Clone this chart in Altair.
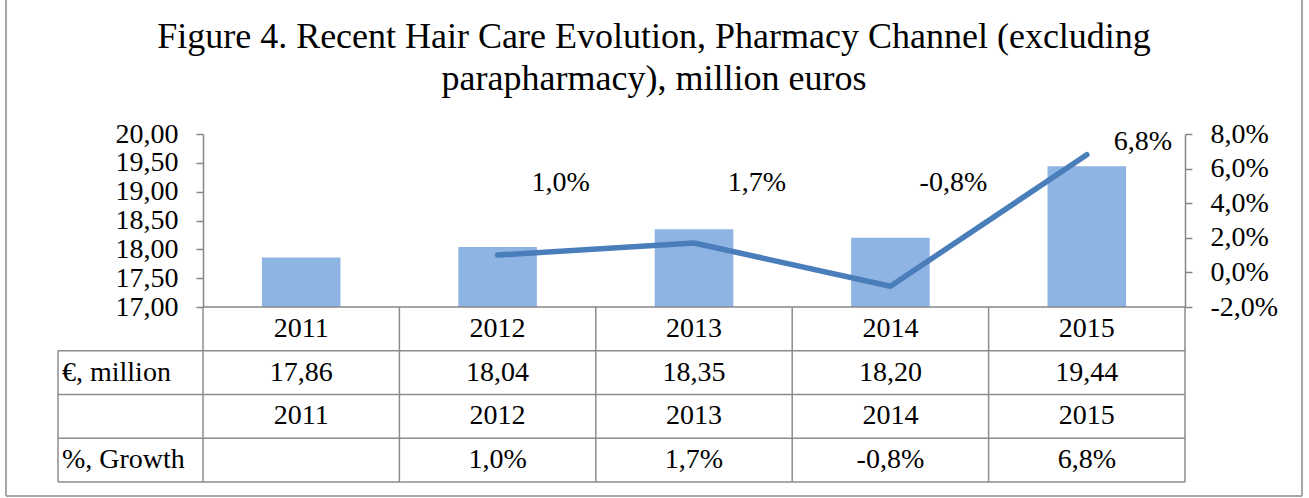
import altair as alt
import pandas as pd

# ---------------- data ----------------
years = ["2011", "2012", "2013", "2014", "2015"]
values = [17.86, 18.04, 18.35, 18.20, 19.44]
growth_years = ["2012", "2013", "2014", "2015"]
growth = [1.0, 1.7, -0.8, 6.8]
left_ticks = [17.0, 17.5, 18.0, 18.5, 19.0, 19.5, 20.0]
right_ticks = [-2, 0, 2, 4, 6, 8]
title_lines = ["Figure 4. Recent Hair Care Evolution, Pharmacy Channel (excluding",
               "parapharmacy), million euros"]
row_ids = ["r1", "r2", "r3", "r4"]
row_labels = ["", "€, million", "", "%, Growth"]

# ---------------- layout / style ----------------
W, H = 982, 173        # plot area
TH = 175               # table height under the plot
FONT = "Liberation Serif"
FS = 28
GRID = "#8C8C8C"
AX = "#868686"
BAR = "#8EB4E3"
LINE = "#4A7EBB"
FRAME = "#A6A6A6"

bars_df = pd.DataFrame({"year": years, "value": values})
growth_df = pd.DataFrame({"year": growth_years, "growth": growth})

gmap = dict(zip(growth_years, growth))
cells = []
for yr, v in zip(years, values):
    cells.append({"row": "r1", "year": yr, "text": yr})
    cells.append({"row": "r2", "year": yr, "text": f"{v:.2f}".replace(".", ",")})
    cells.append({"row": "r3", "year": yr, "text": yr})
    g = gmap.get(yr)
    cells.append({"row": "r4", "year": yr,
                  "text": "" if g is None else f"{g:.1f}".replace(".", ",") + "%"})
cells_df = pd.DataFrame(cells)
labels_df = pd.DataFrame({"row": row_ids, "label": row_labels})
one = alt.Data(values=[{}])

xscale = alt.Scale(domain=years, paddingInner=0, paddingOuter=0)
X = alt.X("year:N", scale=xscale, axis=None)
rowscale = alt.Scale(domain=row_ids, range=[H, H + TH], paddingInner=0, paddingOuter=0)

# ---------------- frame and title ----------------
frame_l = alt.Chart(one).mark_rule(color=FRAME, strokeWidth=2).encode(
    x=alt.value(-197), y=alt.value(-140), y2=alt.value(362))
frame_r = alt.Chart(one).mark_rule(color=FRAME, strokeWidth=2).encode(
    x=alt.value(1099), y=alt.value(-140), y2=alt.value(362))
frame_b = alt.Chart(one).mark_rule(color=FRAME, strokeWidth=2).encode(
    x=alt.value(-197), x2=alt.value(1099), y=alt.value(362))
title1 = alt.Chart(one).mark_text(text=title_lines[0], font=FONT, fontSize=36,
                                  align="center", baseline="alphabetic", color="black").encode(
    x=alt.value(451), y=alt.value(-86))
title2 = alt.Chart(one).mark_text(text=title_lines[1], font=FONT, fontSize=36,
                                  align="center", baseline="alphabetic", color="black").encode(
    x=alt.value(451), y=alt.value(-44))

# ---------------- bars (left axis) ----------------
bars = alt.Chart(bars_df).mark_bar(color=BAR, width=alt.RelativeBandSize(0.4)).encode(
    x=X,
    y=alt.Y("value:Q",
            scale=alt.Scale(domain=[17, 20], zero=False, nice=False),
            axis=alt.Axis(orient="left", values=left_ticks, title=None, grid=False,
                          labelExpr="replace(format(datum.value,'.2f'),'.',',')",
                          labelFont=FONT, labelFontSize=FS, labelColor="black",
                          labelPadding=18, tickSize=7, tickColor=AX, tickWidth=1.5,
                          domainColor=AX, domainWidth=1.5, labelOverlap=False)),
    y2=alt.datum(17),
)

# ---------------- growth line (right axis) ----------------
pct_expr = "replace(replace(format(datum.growth,'.1f'),'.',','),'\u2212','-') + '%'"
GY = alt.Y("growth:Q", scale=alt.Scale(domain=[-2, 8], nice=False),
           axis=alt.Axis(orient="right", values=right_ticks, title=None, grid=False,
                         labelExpr="replace(replace(format(datum.value,'.1f'),'.',','),'\u2212','-') + '%'",
                         labelFont=FONT, labelFontSize=FS, labelColor="black",
                         labelPadding=18, tickSize=7, tickColor=AX, tickWidth=1.5,
                         domainColor=AX, domainWidth=1.5, labelOverlap=False))
line = alt.Chart(growth_df).mark_line(color=LINE, strokeWidth=5.5, strokeCap="round",
                                      strokeJoin="round").encode(x=X, y=GY)
lab_low = alt.Chart(growth_df).transform_filter("datum.growth < 5").transform_calculate(
    lab=pct_expr).mark_text(font=FONT, fontSize=FS, dx=63, baseline="middle", color="black").encode(
    x=X, y=alt.value(49), text="lab:N")
lab_high = alt.Chart(growth_df).transform_filter("datum.growth >= 5").transform_calculate(
    lab=pct_expr).mark_text(font=FONT, fontSize=FS, dx=56, dy=-13, baseline="middle",
                            color="black").encode(x=X, y=GY, text="lab:N")

# ---------------- data table ----------------
RY0 = alt.Y("row:N", scale=rowscale, axis=None, bandPosition=0)
RY1 = alt.Y("row:N", scale=rowscale, axis=None, bandPosition=1)
RY = alt.Y("row:N", scale=rowscale, axis=None)

cell_text = alt.Chart(cells_df).mark_text(font=FONT, fontSize=FS, baseline="middle",
                                          color="black").encode(x=X, y=RY, text="text:N")
row_text = alt.Chart(labels_df).mark_text(font=FONT, fontSize=FS, baseline="middle",
                                          align="left", color="black").encode(
    x=alt.value(-141), y=RY, text="label:N")
h_top_axis = alt.Chart(labels_df).transform_filter("datum.row == 'r1'").mark_rule(
    color=AX, strokeWidth=1.5).encode(x=alt.value(0), x2=alt.value(W), y=RY0)
h_tops = alt.Chart(labels_df).transform_filter("datum.row != 'r1'").mark_rule(
    color=GRID, strokeWidth=1.5).encode(x=alt.value(-145), x2=alt.value(W), y=RY0)
h_bottom = alt.Chart(labels_df).transform_filter("datum.row == 'r4'").mark_rule(
    color=GRID, strokeWidth=1.5).encode(x=alt.value(-145), x2=alt.value(W), y=RY1)
v_lines = alt.Chart(bars_df).mark_rule(color=GRID, strokeWidth=1.5).encode(
    x=alt.X("year:N", scale=xscale, axis=None, bandPosition=0),
    y=alt.value(H), y2=alt.value(H + TH))
v_right = alt.Chart(one).mark_rule(color=GRID, strokeWidth=1.5).encode(
    x=alt.value(W), y=alt.value(H), y2=alt.value(H + TH))
v_label = alt.Chart(one).mark_rule(color=GRID, strokeWidth=1.5).encode(
    x=alt.value(-145), y=alt.value(H + TH / 4), y2=alt.value(H + TH))

g_bars = alt.layer(frame_l, frame_r, frame_b, title1, title2, bars)
g_line = alt.layer(line, lab_low, lab_high)
g_table = alt.layer(h_tops, h_bottom, v_lines, v_right, v_label, h_top_axis, cell_text, row_text)

chart = alt.layer(g_bars, g_line, g_table).resolve_scale(y="independent").properties(
    width=W, height=H,
    autosize=alt.AutoSizeParams(type="none"),
    padding={"left": 203, "top": 134, "right": 124, "bottom": 191},
    background="white",
).configure_view(stroke=None)

chart.save("out.html", embed_options={"renderer": "svg", "actions": False})
